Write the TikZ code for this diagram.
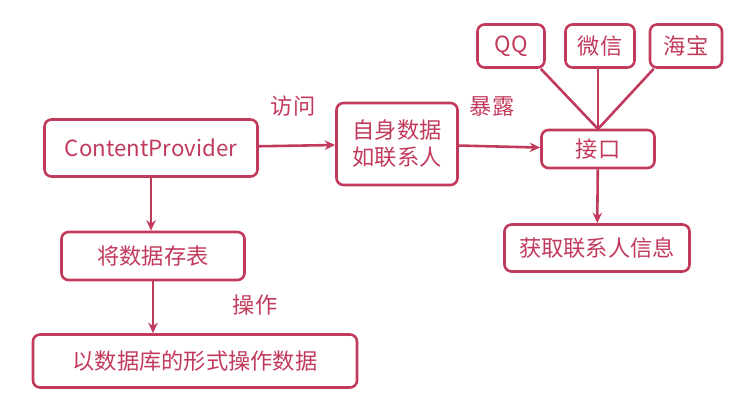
\documentclass[tikz,border=0pt]{standalone}
\usepackage{fontspec}
\setmainfont{Noto Sans CJK SC}
\usetikzlibrary{positioning,arrows.meta}
\definecolor{penColor}{HTML}{C23A5B}
\tikzset{box/.style={draw=penColor, text=penColor, line width=2.2pt, rounded corners=6pt,
    inner sep=0pt, font=\fontsize{19}{23}\selectfont},
  lab/.style={text=penColor, font=\fontsize{19}{23}\selectfont},
  link/.style={-{Stealth[length=9pt,width=8pt]}, draw=penColor, line width=2.2pt}}
\begin{document}
\begin{tikzpicture}[x=0.03cm,y=-0.03cm]
    \useasboundingbox (0,0) rectangle (745,408);
      \node[box, minimum width=213*0.03cm, minimum height=57*0.03cm] (cp) at (151,148) {ContentProvider};
      \node[box, minimum width=121*0.03cm, minimum height=82*0.03cm, align=center] (self) at (397,144) {自身数据\\如联系人};
      \node[box, minimum width=113*0.03cm, minimum height=38*0.03cm] (port) at (598,149) {接口};
      \node[box, minimum width=67*0.03cm, minimum height=43*0.03cm] (qq) at (511,46) {QQ};
      \node[box, minimum width=69*0.03cm, minimum height=43*0.03cm] (wx) at (600,46) {微信};
      \node[box, minimum width=72*0.03cm, minimum height=43*0.03cm] (tb) at (686,46) {海宝};
      \node[box, minimum width=185*0.03cm, minimum height=47*0.03cm] (get) at (597,248) {获取联系人信息};
      \node[box, minimum width=183*0.03cm, minimum height=48*0.03cm] (tab) at (153,256) {将数据存表};
      \node[box, minimum width=324*0.03cm, minimum height=53*0.03cm] (db) at (195,361) {以数据库的形式操作数据};
      % labels
      \node[lab] (visit) at (293,106) {访问};
      \node[lab] (expose) at (492,106) {暴露};
      \node[lab] (op) at (255,305) {操作};
      \coordinate (hub) at (598,129);
      \draw[link] (cp) -- (self);
      \draw[link] (self) -- (port);
      \draw[link] (port) -- (get);
      \draw[link] (cp.south -| 151,0) -- (tab.north -| 151,0);
      \draw[link] (tab) -- (db.north -| tab);
      \draw[penColor, line width=2.2pt] (qq.south east) ++(-5,0) -- (hub);
      \draw[penColor, line width=2.2pt] (wx.south -| hub) -- (hub);
      \draw[penColor, line width=2.2pt] (tb.south west) ++(5,0) -- (hub);
    \end{tikzpicture}
\end{document}
